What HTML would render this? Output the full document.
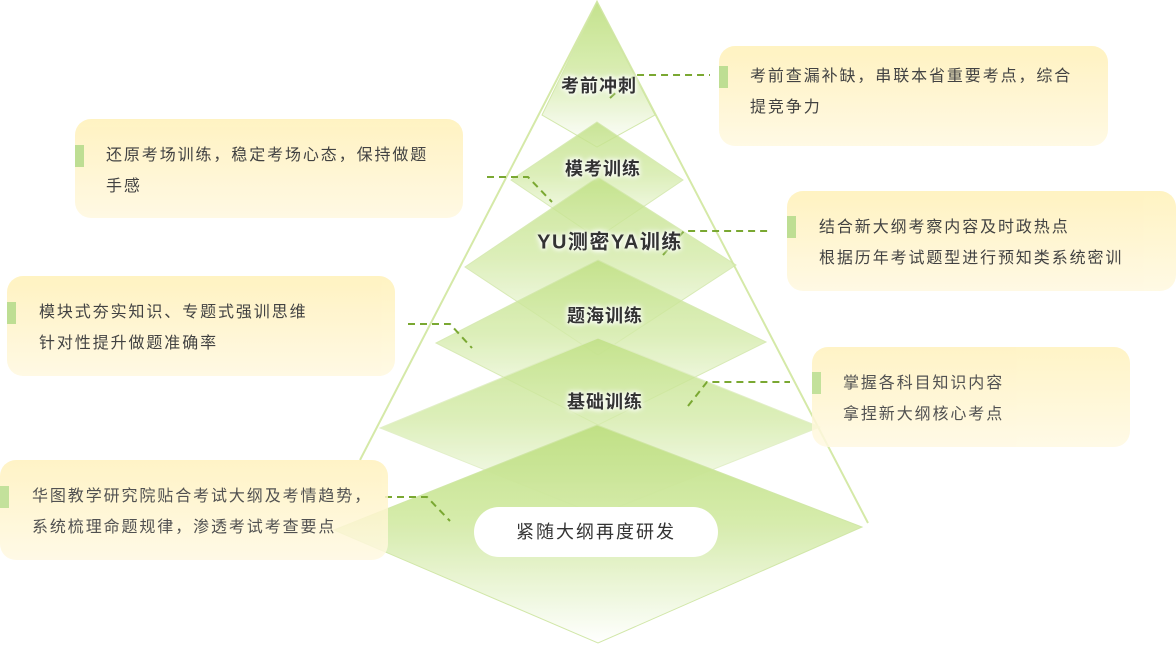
<!DOCTYPE html>
<html><head><meta charset="utf-8">
<style>
html,body{margin:0;padding:0;background:#fff;}
body{width:1176px;height:645px;overflow:hidden;position:relative;font-family:"Liberation Sans","Noto Sans CJK SC",sans-serif;}
svg{position:absolute;left:0;top:0;}
.box{position:absolute;border-radius:16px;background:linear-gradient(#fff2bd,#fff9e2);opacity:.92;}
.bar{position:absolute;width:9px;height:22px;background:#b9dc8a;left:0;}
.t{position:absolute;font-size:16px;letter-spacing:1.9px;color:#333;line-height:31px;white-space:nowrap;}
.lb{position:absolute;font-weight:bold;color:#333;font-size:18px;letter-spacing:1px;white-space:nowrap;transform:translate(-50%,-50%);text-shadow:0 0 4px #fff,0 0 6px #fff,0 0 8px #fff;}
</style></head><body>
<svg width="1176" height="645" viewBox="0 0 1176 645">
<defs>
<linearGradient id="g" x1="0" y1="0" x2="0" y2="1">
<stop offset="0" stop-color="#bfe082"/><stop offset="0.45" stop-color="#d4eba8"/><stop offset="1" stop-color="#ffffff"/>
</linearGradient>
</defs>
<polyline points="360,460 597,2 868,523" fill="none" stroke="#d5e9a8" stroke-width="2"/>
<polygon points="597,2 655,115 597,147 542,115" fill="url(#g)" opacity="0.9" stroke="#cfe6a4"/>
<polygon points="597,122 683,180 597,238 511,180" fill="url(#g)" opacity="0.8" stroke="#cfe6a4"/>
<polygon points="598,177 736,265 598,355 465,267" fill="url(#g)" opacity="0.8" stroke="#cfe6a4"/>
<polygon points="598,260 766,342 598,425 436,343" fill="url(#g)" opacity="0.8" stroke="#cfe6a4"/>
<polygon points="598,338 820,427 598,515 380,428" fill="url(#g)" opacity="0.8" stroke="#dcecbc"/>
<polygon points="597,425 862,527 598,643 334,530" fill="url(#g)" opacity="0.95" stroke="#cfe6a4"/>
<g fill="none" stroke="#7aa832" stroke-width="2" stroke-dasharray="7,5">
<polyline points="610,98 635,75 710,75"/>
<polyline points="487,177 528,177 552,202"/>
<polyline points="663,255 684,231 768,231"/>
<polyline points="408,324 450,324 472,348"/>
<polyline points="688,406 707,382 790,382"/>
<polyline points="385,497 427,497 450,521"/>
</g>
<rect x="474" y="507" width="244" height="50" rx="25" fill="#fff"/>
</svg>
<div class="lb" style="left:599px;top:85px">考前冲刺</div>
<div class="lb" style="left:603px;top:168px">模考训练</div>
<div class="lb" style="left:610px;top:240px;font-size:20px;letter-spacing:1.5px;font-weight:bold">YU测密YA训练</div>
<div class="lb" style="left:605px;top:315px">题海训练</div>
<div class="lb" style="left:605px;top:401px">基础训练</div>
<div style="position:absolute;left:474px;top:507px;width:244px;height:50px;line-height:50px;text-align:center;font-size:18px;letter-spacing:2px;color:#333">紧随大纲再度研发</div>

<div class="box" style="left:719px;top:46px;width:389px;height:100px"><div class="bar" style="top:20px"></div><div class="t" style="left:31px;top:15px">考前查漏补缺，串联本省重要考点，综合<br>提竞争力</div></div>
<div class="box" style="left:75px;top:119px;width:388px;height:99px"><div class="bar" style="top:26px"></div><div class="t" style="left:31px;top:21px">还原考场训练，稳定考场心态，保持做题<br>手感</div></div>
<div class="box" style="left:787px;top:191px;width:389px;height:100px"><div class="bar" style="top:25px"></div><div class="t" style="left:32px;top:21px">结合新大纲考察内容及时政热点<br>根据历年考试题型进行预知类系统密训</div></div>
<div class="box" style="left:7px;top:276px;width:388px;height:100px"><div class="bar" style="top:26px"></div><div class="t" style="left:32px;top:21px">模块式夯实知识、专题式强训思维<br>针对性提升做题准确率</div></div>
<div class="box" style="left:812px;top:347px;width:318px;height:100px;opacity:.85"><div class="bar" style="top:25px"></div><div class="t" style="left:31px;top:21px">掌握各科目知识内容<br>拿捏新大纲核心考点</div></div>
<div class="box" style="left:0px;top:460px;width:388px;height:100px;opacity:.85"><div class="bar" style="top:26px"></div><div class="t" style="left:32px;top:21px">华图教学研究院贴合考试大纲及考情趋势，<br>系统梳理命题规律，渗透考试考查要点</div></div>
</body></html>
